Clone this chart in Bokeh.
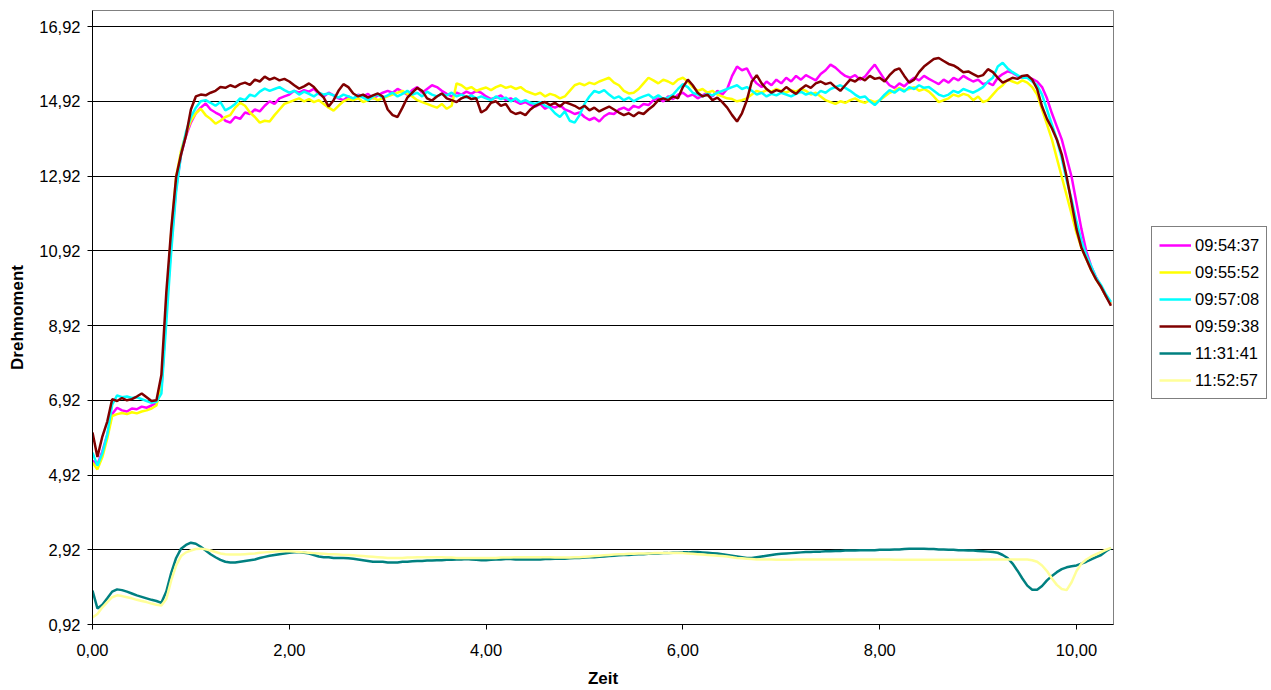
from bokeh.plotting import figure
from bokeh.layouts import row
from bokeh.models import Range1d, FixedTicker, CustomJSTickFormatter, Legend, LegendItem
from bokeh.embed import file_html
from bokeh.resources import INLINE

# time axis (Zeit), sampled every 0.05
zeit = [round(i * 0.05, 2) for i in range(208)]

labels = ["09:54:37", "09:55:52", "09:57:08", "09:59:38", "11:31:41", "11:52:57"]
colors = ["#FF00FF", "#FFFF00", "#00FFFF", "#800000", "#008080", "#FFFF99"]

s_095437 = [
    5.30, 5.20, 5.55, 6.00, 6.55, 6.72, 6.65, 6.62, 6.70, 6.68,
    6.75, 6.72, 6.78, 6.85, 7.20, 9.30, 11.10, 12.60, 13.50, 14.00,
    14.35, 14.60, 14.75, 14.86, 14.70, 14.62, 14.55, 14.40, 14.35, 14.50,
    14.45, 14.62, 14.58, 14.70, 14.65, 14.80, 14.92, 14.85, 15.00, 15.05,
    15.10, 15.20, 15.15, 15.22, 15.18, 15.25, 15.12, 15.05, 15.15, 15.08,
    15.00, 14.95, 15.05, 14.98, 15.10, 15.05, 15.12, 15.00, 15.08, 15.15,
    15.20, 15.15, 15.25, 15.18, 15.10, 15.22, 15.30, 15.15, 15.25, 15.35,
    15.30, 15.20, 15.12, 15.05, 15.15, 15.10, 15.18, 15.12, 15.20, 15.15,
    15.05, 14.98, 15.02, 15.08, 14.95, 15.00, 14.92, 14.85, 14.90, 14.82,
    14.78, 14.85, 14.72, 14.80, 14.75, 14.82, 14.70, 14.65, 14.58, 14.62,
    14.50, 14.42, 14.48, 14.38, 14.52, 14.60, 14.58, 14.70, 14.75, 14.68,
    14.80, 14.75, 14.85, 14.82, 14.95, 15.00, 14.92, 15.05, 14.98, 15.10,
    15.15, 15.05, 15.10, 15.00, 15.08, 15.15, 15.05, 15.20, 15.10, 15.25,
    15.60, 15.85, 15.75, 15.80, 15.55, 15.40, 15.30, 15.45, 15.35, 15.50,
    15.40, 15.55, 15.45, 15.60, 15.50, 15.62, 15.55, 15.48, 15.65, 15.75,
    15.90, 15.82, 15.70, 15.60, 15.55, 15.62, 15.50, 15.58, 15.75, 15.90,
    15.70, 15.50, 15.35, 15.28, 15.40, 15.32, 15.45, 15.55, 15.48, 15.60,
    15.52, 15.45, 15.38, 15.50, 15.42, 15.55, 15.48, 15.60, 15.52, 15.45,
    15.50, 15.38, 15.42, 15.35, 15.55, 15.65, 15.72, 15.68, 15.60, 15.55,
    15.58, 15.52, 15.45, 15.30, 15.00, 14.60, 14.25, 13.90, 13.40, 12.90,
    12.20, 11.50, 10.90, 10.50, 10.20, 9.95, 9.70, 9.50,
]

s_095552 = [
    5.25, 5.07, 5.40, 5.90, 6.50, 6.55, 6.58, 6.55, 6.60, 6.57,
    6.62, 6.65, 6.70, 6.78, 7.30, 9.40, 11.40, 12.90, 13.60, 14.05,
    14.40, 14.60, 14.72, 14.55, 14.45, 14.32, 14.40, 14.50, 14.55, 14.75,
    14.88, 14.80, 14.62, 14.50, 14.35, 14.40, 14.38, 14.55, 14.70, 14.85,
    14.90, 14.95, 15.00, 14.92, 14.98, 14.90, 14.95, 14.85, 14.75, 14.67,
    14.80, 14.92, 14.98, 14.95, 15.00, 14.90, 14.95, 15.02, 14.95, 15.00,
    15.05, 15.10, 15.15, 15.20, 15.12, 15.05, 14.95, 14.90, 14.85, 14.80,
    14.75, 14.85, 14.72, 14.80, 15.40, 15.35, 15.25, 15.30, 15.20, 15.25,
    15.29, 15.22, 15.30, 15.35, 15.28, 15.32, 15.25, 15.30, 15.20, 15.15,
    15.10, 15.15, 15.05, 15.12, 15.08, 15.00, 15.05, 15.20, 15.35, 15.40,
    15.35, 15.42, 15.38, 15.45, 15.50, 15.55, 15.42, 15.35, 15.20, 15.13,
    15.15, 15.25, 15.40, 15.55, 15.48, 15.40, 15.50, 15.45, 15.38, 15.50,
    15.55, 15.45, 15.30, 15.20, 15.25, 15.15, 15.20, 15.10, 15.05, 15.00,
    14.98, 14.92, 14.95, 15.00, 15.10, 15.20, 15.15, 15.22, 15.18, 15.25,
    15.20, 15.15, 15.22, 15.18, 15.25, 15.20, 15.10, 15.15, 15.05, 14.95,
    14.90, 14.85, 14.92, 14.88, 14.95, 15.00, 14.92, 14.88, 14.95, 14.90,
    14.95, 15.05, 15.15, 15.20, 15.28, 15.22, 15.25, 15.30, 15.20, 15.25,
    15.18, 15.05, 14.90, 14.95, 15.00, 15.10, 15.05, 15.12, 15.08, 14.95,
    15.05, 14.90, 14.95, 15.10, 15.25, 15.35, 15.50, 15.45, 15.40, 15.48,
    15.42, 15.30, 15.10, 14.70, 14.30, 13.90, 13.40, 12.90, 12.40, 11.90,
    11.40, 11.00, 10.70, 10.40, 10.15, 9.95, 9.70, 9.50,
]

s_095708 = [
    5.52, 5.17, 5.50, 6.00, 6.80, 7.05, 7.00, 7.02, 6.98, 7.00,
    6.95, 6.90, 6.85, 6.88, 7.10, 9.00, 10.90, 12.50, 13.50, 14.10,
    14.50, 14.75, 14.92, 14.95, 14.88, 14.80, 14.90, 14.68, 14.75, 14.85,
    15.00, 14.95, 15.10, 15.05, 15.18, 15.26, 15.20, 15.25, 15.30, 15.22,
    15.15, 15.20, 15.10, 15.18, 15.12, 15.05, 15.15, 15.10, 15.13, 15.08,
    15.02, 15.10, 15.05, 15.00, 15.08, 15.02, 14.95, 15.05, 15.10, 15.02,
    15.08, 15.15, 15.05, 15.12, 15.20, 15.10, 15.15, 15.05, 15.18, 15.10,
    15.05, 15.12, 15.08, 15.15, 15.05, 15.10, 15.02, 15.08, 15.00, 15.05,
    15.00, 14.95, 15.05, 14.98, 15.02, 14.92, 15.00, 14.90, 14.95, 14.88,
    14.85, 14.90, 14.80, 14.75, 14.60, 14.50, 14.65, 14.40, 14.35, 14.55,
    14.85, 15.05, 15.20, 15.15, 15.22, 15.10, 15.00, 15.05, 14.95, 15.02,
    14.92, 15.00, 15.05, 15.10, 15.00, 15.08, 14.98, 15.02, 15.10, 15.25,
    15.38, 15.30, 15.15, 15.10, 15.05, 15.12, 15.08, 15.15, 15.20, 15.25,
    15.30, 15.35, 15.25, 15.30, 15.20, 15.10, 15.15, 15.05, 15.12, 15.08,
    15.15, 15.10, 15.05, 15.12, 15.18, 15.10, 15.15, 15.08, 15.20, 15.15,
    15.25, 15.30, 15.35, 15.28, 15.20, 15.10, 15.02, 15.05, 14.92, 14.82,
    14.95, 15.10, 15.22, 15.15, 15.25, 15.18, 15.30, 15.25, 15.35, 15.28,
    15.30, 15.20, 15.10, 15.05, 15.10, 15.20, 15.15, 15.25, 15.20, 15.15,
    15.22, 15.30, 15.45, 15.55, 15.85, 15.95, 15.80, 15.70, 15.62, 15.55,
    15.55, 15.45, 15.35, 15.10, 14.70, 14.30, 13.90, 13.40, 12.80, 12.30,
    11.70, 11.20, 10.80, 10.50, 10.20, 10.00, 9.75, 9.55,
]

s_095938 = [
    6.06, 5.40, 5.95, 6.35, 6.95, 6.90, 6.98, 6.92, 6.95, 7.02,
    7.10, 7.00, 6.90, 6.92, 7.60, 9.80, 11.50, 12.90, 13.50, 14.00,
    14.70, 15.05, 15.10, 15.08, 15.15, 15.20, 15.30, 15.28, 15.35, 15.30,
    15.38, 15.42, 15.36, 15.50, 15.45, 15.58, 15.50, 15.55, 15.48, 15.52,
    15.45, 15.35, 15.26, 15.32, 15.40, 15.30, 15.15, 15.02, 14.78, 14.95,
    15.20, 15.38, 15.30, 15.13, 15.05, 15.10, 15.02, 15.08, 15.13, 15.05,
    14.70, 14.55, 14.50, 14.75, 15.02, 15.15, 15.28, 15.20, 15.00, 14.94,
    15.05, 15.13, 15.00, 14.95, 14.90, 15.00, 15.05, 14.98, 15.00, 14.62,
    14.70, 14.88, 14.92, 14.80, 14.85, 14.65, 14.58, 14.62, 14.55, 14.70,
    14.80, 14.86, 14.90, 14.82, 14.88, 14.78, 14.90, 14.85, 14.80, 14.72,
    14.80, 14.68, 14.75, 14.65, 14.72, 14.78, 14.70, 14.62, 14.55, 14.60,
    14.52, 14.62, 14.58, 14.70, 14.80, 14.95, 15.00, 14.95, 15.05, 15.00,
    15.30, 15.50, 15.35, 15.15, 15.05, 15.10, 14.95, 15.02, 14.90, 14.75,
    14.55, 14.38, 14.60, 14.95, 15.45, 15.62, 15.40, 15.25, 15.15, 15.22,
    15.18, 15.30, 15.20, 15.12, 15.25, 15.35, 15.28, 15.40, 15.45, 15.38,
    15.42, 15.30, 15.20, 15.35, 15.50, 15.45, 15.55, 15.48, 15.60, 15.52,
    15.55, 15.45, 15.62, 15.75, 15.80, 15.60, 15.42, 15.50, 15.70, 15.85,
    15.95, 16.05, 16.08, 16.00, 15.92, 15.88, 15.80, 15.70, 15.72, 15.65,
    15.58, 15.62, 15.78, 15.70, 15.55, 15.42, 15.48, 15.55, 15.52, 15.60,
    15.62, 15.50, 15.25, 14.78, 14.45, 14.20, 13.90, 13.50, 12.90, 12.20,
    11.50, 11.00, 10.70, 10.40, 10.15, 9.95, 9.70, 9.45,
]

s_113141 = [
    1.83, 1.35, 1.45, 1.62, 1.80, 1.86, 1.84, 1.80, 1.75, 1.70,
    1.66, 1.62, 1.58, 1.55, 1.50, 1.80, 2.30, 2.70, 2.95, 3.05,
    3.11, 3.08, 3.00, 2.90, 2.80, 2.72, 2.65, 2.60, 2.58, 2.58,
    2.60, 2.62, 2.64, 2.66, 2.70, 2.73, 2.76, 2.78, 2.80, 2.82,
    2.84, 2.85, 2.85, 2.84, 2.82, 2.78, 2.74, 2.72, 2.72, 2.70,
    2.70, 2.70, 2.69, 2.68, 2.66, 2.64, 2.62, 2.60, 2.60, 2.60,
    2.58, 2.58, 2.58, 2.60, 2.60, 2.61, 2.62, 2.62, 2.63, 2.63,
    2.64, 2.64, 2.65, 2.65, 2.66, 2.66, 2.67, 2.66, 2.65, 2.64,
    2.64, 2.65, 2.66, 2.66, 2.67, 2.67, 2.66, 2.66, 2.66, 2.66,
    2.66, 2.66, 2.67, 2.67, 2.68, 2.68, 2.68, 2.69, 2.70, 2.70,
    2.71, 2.72, 2.72, 2.73, 2.74, 2.75, 2.76, 2.77, 2.78, 2.78,
    2.79, 2.80, 2.80, 2.81, 2.82, 2.82, 2.83, 2.83, 2.84, 2.84,
    2.85, 2.85, 2.86, 2.86, 2.85, 2.84, 2.83, 2.82, 2.80, 2.78,
    2.76, 2.74, 2.72, 2.70, 2.70, 2.72, 2.74, 2.76, 2.78, 2.80,
    2.81, 2.82, 2.83, 2.84, 2.85, 2.86, 2.86, 2.87, 2.87, 2.88,
    2.88, 2.89, 2.89, 2.90, 2.90, 2.90, 2.91, 2.91, 2.91, 2.91,
    2.92, 2.92, 2.92, 2.93, 2.93, 2.94, 2.95, 2.95, 2.95, 2.95,
    2.94, 2.94, 2.93, 2.93, 2.92, 2.92, 2.91, 2.91, 2.90, 2.90,
    2.89, 2.88, 2.87, 2.86, 2.84, 2.78, 2.70, 2.55, 2.36, 2.15,
    1.96, 1.85, 1.85, 1.95, 2.10, 2.22, 2.32, 2.40, 2.45, 2.48,
    2.50, 2.55, 2.60, 2.66, 2.72, 2.78, 2.88, 2.96,
]

s_115257 = [
    1.11, 1.20, 1.38, 1.52, 1.65, 1.70, 1.68, 1.65, 1.62, 1.58,
    1.55, 1.52, 1.48, 1.45, 1.43, 1.60, 2.10, 2.50, 2.75, 2.85,
    2.90, 2.94, 2.95, 2.93, 2.90, 2.86, 2.82, 2.80, 2.79, 2.79,
    2.79, 2.80, 2.81, 2.82, 2.84, 2.85, 2.86, 2.87, 2.88, 2.88,
    2.88, 2.87, 2.86, 2.85, 2.84, 2.83, 2.82, 2.81, 2.80, 2.80,
    2.79, 2.78, 2.78, 2.77, 2.76, 2.75, 2.74, 2.73, 2.72, 2.71,
    2.70, 2.70, 2.70, 2.70, 2.71, 2.71, 2.72, 2.72, 2.72, 2.72,
    2.72, 2.72, 2.71, 2.71, 2.70, 2.70, 2.70, 2.70, 2.70, 2.70,
    2.70, 2.70, 2.70, 2.71, 2.71, 2.71, 2.72, 2.72, 2.72, 2.72,
    2.72, 2.72, 2.72, 2.72, 2.71, 2.71, 2.71, 2.71, 2.72, 2.72,
    2.73, 2.74, 2.75, 2.76, 2.77, 2.78, 2.79, 2.80, 2.80, 2.81,
    2.81, 2.82, 2.82, 2.82, 2.83, 2.83, 2.83, 2.83, 2.83, 2.83,
    2.83, 2.82, 2.81, 2.80, 2.79, 2.78, 2.77, 2.76, 2.75, 2.74,
    2.72, 2.70, 2.69, 2.68, 2.67, 2.66, 2.66, 2.66, 2.66, 2.65,
    2.65, 2.65, 2.65, 2.66, 2.66, 2.66, 2.66, 2.66, 2.66, 2.66,
    2.66, 2.66, 2.66, 2.66, 2.66, 2.66, 2.66, 2.66, 2.66, 2.66,
    2.66, 2.66, 2.66, 2.65, 2.65, 2.65, 2.65, 2.65, 2.65, 2.65,
    2.65, 2.65, 2.65, 2.65, 2.65, 2.65, 2.65, 2.65, 2.65, 2.65,
    2.65, 2.66, 2.66, 2.66, 2.66, 2.66, 2.66, 2.66, 2.66, 2.66,
    2.66, 2.64, 2.60, 2.50, 2.35, 2.15, 1.98, 1.87, 1.84, 2.05,
    2.35, 2.55, 2.66, 2.74, 2.80, 2.86, 2.92, 2.97,
]

series = [s_095437, s_095552, s_095708, s_095938, s_113141, s_115257]
for s in series:
    assert len(s) == len(zeit), len(s)

y_ticks = [0.92, 2.92, 4.92, 6.92, 8.92, 10.92, 12.92, 14.92, 16.92]
x_ticks = [0, 2, 4, 6, 8, 10]

FONT = "Liberation Sans"
LW = 2.5

# main chart
p = figure(
    width=1114, height=690,
    x_range=Range1d(0, 10.376), y_range=Range1d(0.92, 17.35),
    output_backend="svg", toolbar_location=None,
    min_border_left=92, min_border_right=1, min_border_top=10, min_border_bottom=66,
)
p.background_fill_color = "white"
p.border_fill_color = "white"
p.outline_line_color = "#808080"
p.outline_line_width = 1

p.xgrid.visible = False
p.ygrid.ticker = FixedTicker(ticks=y_ticks)
p.ygrid.grid_line_color = "black"
p.ygrid.grid_line_width = 1

for ax, ticks in ((p.yaxis, y_ticks), (p.xaxis, x_ticks)):
    ax.ticker = FixedTicker(ticks=ticks)
    ax.formatter = CustomJSTickFormatter(code="return tick.toFixed(2).replace('.', ',');")
    ax.axis_line_color = "black"
    ax.axis_line_width = 1
    ax.major_tick_line_color = "black"
    ax.major_tick_out = 5
    ax.major_tick_in = 0
    ax.minor_tick_line_color = None
    ax.major_label_text_font = FONT
    ax.major_label_text_font_size = "16.5px"
    ax.major_label_text_color = "black"
    ax.axis_label_text_font = FONT
    ax.axis_label_text_font_size = "17px"
    ax.axis_label_text_font_style = "bold"
    ax.axis_label_text_color = "black"

p.xaxis.axis_label = "Zeit"
p.xaxis.major_label_standoff = 14
p.xaxis.axis_label_standoff = 10
p.yaxis.axis_label = "Drehmoment"
p.yaxis.major_label_standoff = 7
p.yaxis.axis_label_standoff = 9

for col, s in zip(colors, series):
    p.line(zeit, s, line_color=col, line_width=LW)

# legend panel to the right of the chart (its own ranges lie outside the data,
# so only the legend is visible there)
pl = figure(
    width=154, height=690,
    x_range=Range1d(100, 101), y_range=Range1d(100, 101),
    output_backend="svg", toolbar_location=None,
    x_axis_location=None, y_axis_location=None,
    min_border=0,
)
pl.outline_line_color = None
pl.xgrid.visible = False
pl.ygrid.visible = False
pl.background_fill_color = "white"
pl.border_fill_color = "white"

items = []
for lab, col, s in zip(labels, colors, series):
    r = pl.line(zeit, s, line_color=col, line_width=LW)
    items.append(LegendItem(label=lab, renderers=[r]))

legend = Legend(items=items, location=(37, 225))
legend.border_line_color = "black"
legend.border_line_width = 1
legend.background_fill_color = "white"
legend.background_fill_alpha = 1
legend.label_text_font = FONT
legend.label_text_font_size = "16.5px"
legend.label_text_color = "black"
legend.glyph_width = 32
legend.glyph_height = 22
legend.label_height = 22
legend.spacing = 5
legend.padding = 7
legend.label_standoff = 4
legend.margin = 0
pl.add_layout(legend)

layout = row(p, pl, spacing=0)
open("out.html", "w").write(file_html(layout, INLINE))
